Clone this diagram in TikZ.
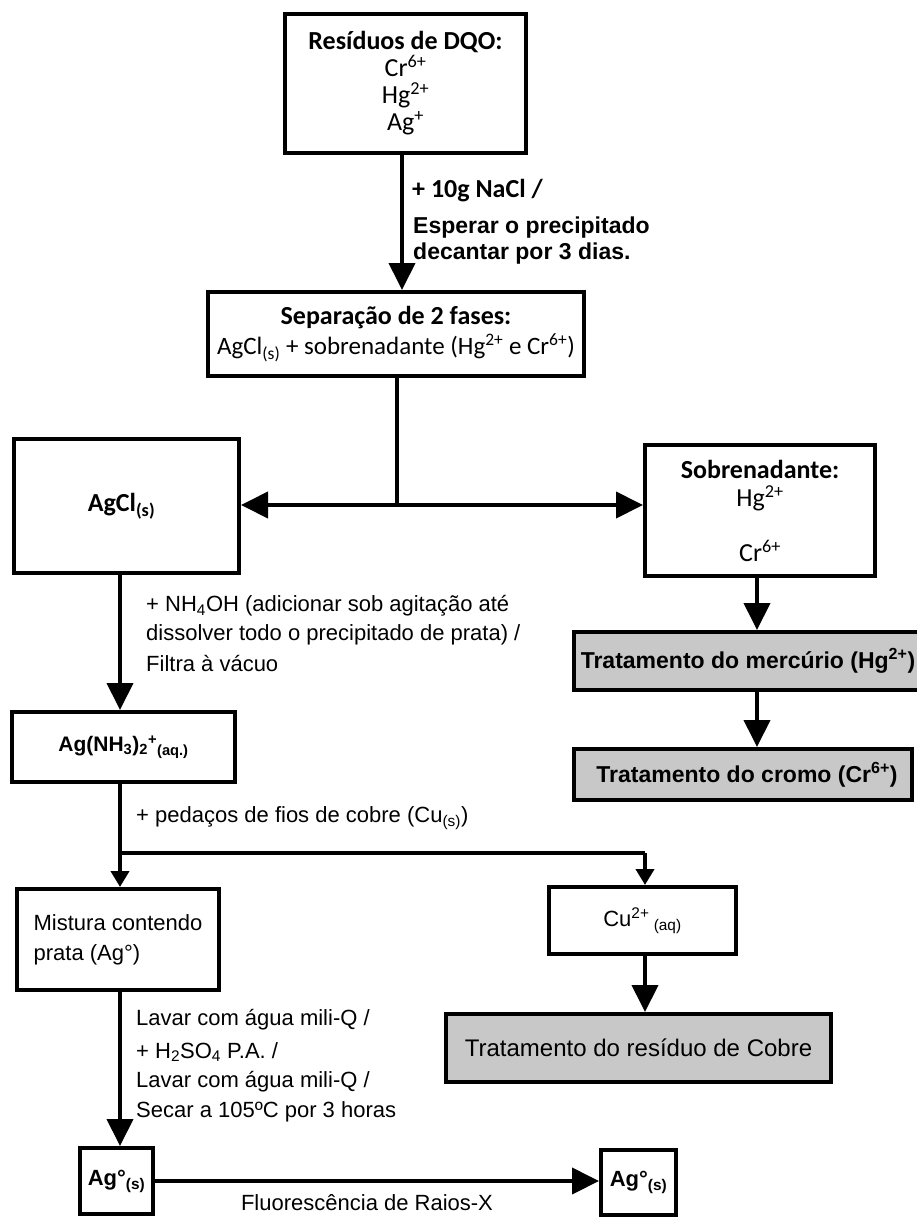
\documentclass[tikz,border=0pt]{standalone}
\usepackage{fontspec}
\setmainfont{Liberation Sans}
\newfontfamily\calib{Carlito}
\usetikzlibrary{arrows.meta}
\definecolor{boxgray}{RGB}{200,200,200}
\begin{document}
\begin{tikzpicture}[x=1pt,y=-1pt,
  box/.style={draw, line width=4pt, inner sep=0pt, align=center},
  greybox/.style={box, fill=boxgray},
  link/.style={line width=4pt},
  arr/.style={link, -{Triangle[length=27pt,width=26pt]}},
  smallarr/.style={link, -{Triangle[length=16pt,width=18pt]}},
  ar/.style={font=\fontsize{22}{30}\selectfont},
  arb/.style={font=\fontsize{23}{30}\selectfont\bfseries},
  cal/.style={font=\calib\fontsize{25}{30}\selectfont},
  calb/.style={font=\calib\fontsize{26}{30}\selectfont\bfseries},
  lbl/.style={anchor=west, inner sep=0pt, align=left},
]
\useasboundingbox (0,0) rectangle (917,1217);

% boxes
\node[box, minimum width=241pt, minimum height=139pt, font=\calib\fontsize{26}{27}\selectfont]
  (top) at (405.5,83.5) {\textbf{Resíduos de DQO:}\\Cr\textsuperscript{6+}\\Hg\textsuperscript{2+}\\Ag\textsuperscript{+}};
\node[box, cal, minimum width=376pt, minimum height=84pt]
  (sep) at (396,334) {{\fontsize{26}{30}\selectfont\bfseries Separação de 2 fases:}\\AgCl\textsubscript{(s)} + sobrenadante (Hg\textsuperscript{2+} e Cr\textsuperscript{6+})};
\node[box, calb, minimum width=225pt, minimum height=134pt]
  (agcl) at (126.5,506) {AgCl\textsubscript{(s)}\hspace*{10pt}};
\node[box, minimum width=230pt, minimum height=131pt, font=\calib\fontsize{26}{28}\selectfont]
  (sobre) at (760,510.5) {\textbf{Sobrenadante:}\\Hg\textsuperscript{2+}\\[27pt]Cr\textsuperscript{6+}};
\node[greybox, arb, minimum width=348pt, minimum height=58pt]
  (merc) at (748,661) {Tratamento do mercúrio (Hg\textsuperscript{2+})};
\node[greybox, arb, minimum width=338pt, minimum height=51pt]
  (cromo) at (743,774.5) {\hspace*{8pt}Tratamento do cromo (Cr\textsuperscript{6+})};
\node[box, font=\fontsize{21}{30}\selectfont\bfseries, minimum width=223pt, minimum height=70pt]
  (agnh) at (123.5,747) {Ag(NH\textsubscript{3})\textsubscript{2}\textsuperscript{+}\textsubscript{(aq.)}};
\node[box, ar, minimum width=202pt, minimum height=101pt, align=left]
  (mist) at (118,939.5) {Mistura contendo\\prata (Ag°)\hspace*{55pt}};
\node[box, ar, minimum width=187pt, minimum height=67pt]
  (cu) at (642.5,920.5) {Cu\textsuperscript{2+}\textsubscript{ (aq)}};
\node[greybox, font=\fontsize{24}{30}\selectfont, minimum width=385pt, minimum height=68pt]
  (cobre) at (638.5,1048) {Tratamento do resíduo de Cobre};
\node[box, font=\fontsize{22}{30}\selectfont\bfseries, minimum width=73pt, minimum height=66pt]
  (ag1) at (116.5,1181) {Ag°\textsubscript{(s)}};
\node[box, font=\fontsize{22}{30}\selectfont\bfseries, minimum width=75pt, minimum height=65pt]
  (ag2) at (638.5,1182.5) {Ag°\textsubscript{(s)}};

% junctions
\coordinate (j1) at (397,505);
\coordinate (j2) at (120,853);
\coordinate (j3) at (645,853);

% connectors
\draw[arr] (top.south -| 402,0) -- (sep.north -| 402,0);
\draw[link] (sep.south -| j1) -- (j1);
\draw[arr] (j1) -- (agcl.east |- j1);
\draw[arr] (j1) -- (sobre.west |- j1);
\draw[arr] (sobre.south -| 757,0) -- (merc.north -| 757,0);
\draw[arr] (merc.south -| 757,0) -- (cromo.north -| 757,0);
\draw[arr] (agcl.south -| j2) -- (agnh.north -| j2);
\draw[link] (agnh.south -| j2) -- (j2) -- (j3);
\draw[smallarr] (j2) -- (mist.north -| j2);
\draw[smallarr] (j3) -- (cu.north -| j3);
\draw[arr] (cu.south -| j3) -- (cobre.north -| j3);
\draw[arr] (mist.south -| j2) -- (ag1.north -| j2);
\draw[arr] (ag1.east |- 0,1181) -- (ag2.west |- 0,1181);

% step labels
\node[lbl, calb] (l1) at (412,191) {+ 10g NaCl /};
\node[lbl, arb] (l2) at (413,228) {Esperar o precipitado};
\node[lbl, arb] (l3) at (413,254) {decantar por 3 dias.};
\node[lbl, ar] (l4) at (146,606) {+ NH\textsubscript{4}OH (adicionar sob agitação até};
\node[lbl, ar] (l5) at (146,635) {dissolver todo o precipitado de prata) /};
\node[lbl, ar] (l6) at (146,664) {Filtra à vácuo};
\node[lbl, ar] (l7) at (136,818) {+ pedaços de fios de cobre (Cu\textsubscript{(s)})};
\node[lbl, ar] (l8) at (136,1020) {Lavar com água mili-Q /};
\node[lbl, ar] (l9) at (136,1052) {+ H\textsubscript{2}SO\textsubscript{4} P.A. /};
\node[lbl, ar] (l10) at (136,1082) {Lavar com água mili-Q /};
\node[lbl, ar] (l11) at (136,1112) {Secar a 105ºC por 3 horas};
\node[ar, inner sep=0pt] (l12) at (367,1203) {Fluorescência de Raios-X};
\end{tikzpicture}
\end{document}
